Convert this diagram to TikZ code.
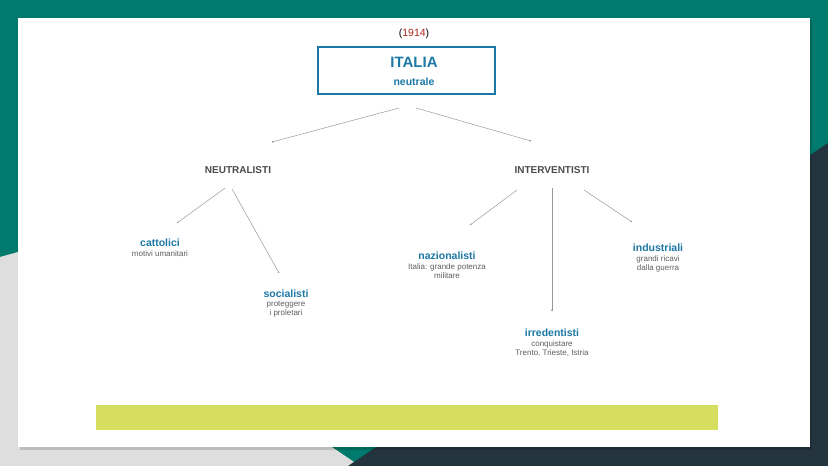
\documentclass[tikz,border=0pt]{standalone}
\usepackage{fontspec}
\setmainfont{Liberation Sans}
\usetikzlibrary{positioning, arrows.meta}
\definecolor{tealbg}{RGB}{0,122,108}
\definecolor{navybg}{RGB}{36,52,62}
\definecolor{greybg}{RGB}{222,222,222}
\definecolor{headblue}{RGB}{28,120,165}
\definecolor{textgrey}{RGB}{95,95,95}
\definecolor{yearred}{RGB}{170,40,30}
\definecolor{barlime}{RGB}{214,222,96}
\tikzset{
  head/.style={font=\bfseries\fontsize{10.5}{12}\selectfont, text=headblue, inner sep=1pt},
  note/.style={font=\fontsize{8}{9.5}\selectfont, text=textgrey, align=center, inner sep=1pt},
  group/.style={font=\bfseries\fontsize{10}{12}\selectfont, text=black!70, inner sep=1pt},
  link/.style={draw=black!40, line width=0.5pt, -{Circle[length=1.6pt, fill=black!70]}}
}
\begin{document}
\begin{tikzpicture}[x=1pt, y=-1pt]
        \useasboundingbox (0,0) rectangle (828,466);
        % background
        \fill[tealbg] (0,0) rectangle (828,466);
        \fill[greybg] (0,257) -- (36,247) -- (360,466) -- (0,466) -- cycle;
        \fill[navybg] (828,143) -- (828,466) -- (348,466) -- cycle;
        \fill[black, opacity=0.15] (20,20) rectangle (812,450);
        \fill[white] (18,18) rectangle (810,447);
        % title
        \node (year) at (414,34) {\fontsize{10.5}{12}\selectfont (\textcolor{yearred}{1914})};
        \draw[draw=headblue, line width=1.2pt] (318,47) rectangle (495,94);
        \node[head, font=\bfseries\fontsize{15}{17}\selectfont] (italia) at (414,62) {ITALIA};
        \node[head] (neutrale) at (414,82) {neutrale};
        % groups
        \node[group] (neutr) at (238,170) {NEUTRALISTI};
        \node[group] (interv) at (552,170) {INTERVENTISTI};
        % leaves
        \node[head] (catt) at (160,243) {cattolici};
        \node[note, below=1pt of catt] (cattn) {motivi umanitari};
        \node[head] (soc) at (286,294) {socialisti};
        \node[note, below=1pt of soc] (socn) {proteggere\\i proletari};
        \node[head] (naz) at (447,256) {nazionalisti};
        \node[note, below=1pt of naz] (nazn) {Italia: grande potenza\\militare};
        \node[head] (ind) at (658,248) {industriali};
        \node[note, below=1pt of ind] (indn) {grandi ricavi\\dalla guerra};
        \node[head] (irr) at (552,333) {irredentisti};
        \node[note, below=1pt of irr] (irrn) {conquistare\\Trento, Trieste, Istria};
        % connectors
        \coordinate (itl) at (399,108);
        \coordinate (itr) at (416,108);
        \coordinate (ntl) at (225,188);
        \coordinate (ntr) at (232,189);
        \coordinate (ivl) at (517,190);
        \coordinate (ivm) at (552,188);
        \coordinate (ivr) at (584,190);
        \draw[link] (itl) -- (272,142) coordinate (tn);
        \draw[link] (itr) -- (531,141) coordinate (ti);
        \draw[link] (ntl) -- (177,223) coordinate (tc);
        \draw[link] (ntr) -- (279,273) coordinate (ts);
        \draw[link] (ivl) -- (470,225) coordinate (tz);
        \draw[link] (ivm) -- (552,311) coordinate (tr);
        \draw[link] (ivr) -- (632,222) coordinate (td);
        % bar
        \fill[barlime] (96,405) rectangle (718,430);
\end{tikzpicture}
\end{document}
